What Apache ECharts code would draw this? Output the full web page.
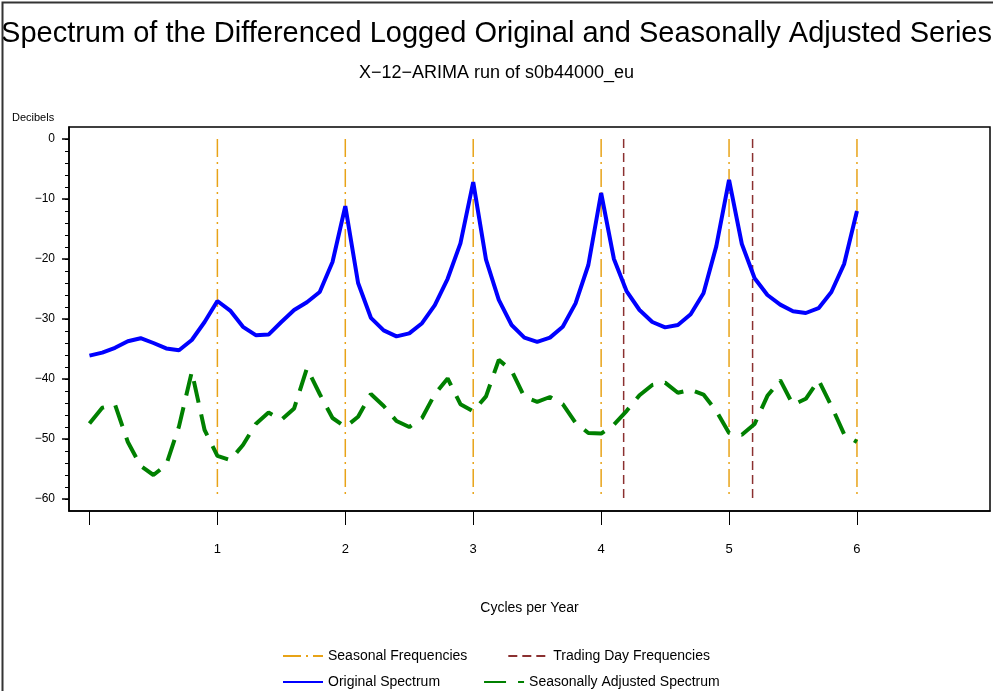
<!DOCTYPE html>
<html>
<head>
<meta charset="utf-8">
<script src="https://cdn.jsdelivr.net/npm/echarts@6/dist/echarts.min.js"></script>
<style>
html,body{margin:0;padding:0;background:#fff;}
#chart{width:993px;height:691px;}
</style>
</head>
<body>
<div id="chart"></div>
<script>
// Frequencies (cycles per year)
const freqs = [0.0,0.1,0.2,0.3,0.4,0.5,0.6,0.7,0.8,0.9,
               1.0,1.1,1.2,1.3,1.4,1.5,1.6,1.7,1.8,1.9,
               2.0,2.1,2.2,2.3,2.4,2.5,2.6,2.7,2.8,2.9,
               3.0,3.1,3.2,3.3,3.4,3.5,3.6,3.7,3.8,3.9,
               4.0,4.1,4.2,4.3,4.4,4.5,4.6,4.7,4.8,4.9,
               5.0,5.1,5.2,5.3,5.4,5.5,5.6,5.7,5.8,5.9,6.0];
// Original spectrum (decibels)
const originalSpectrum = [-36.1,-35.6,-34.8,-33.7,-33.2,-34.0,-34.9,-35.2,-33.5,-30.5,
                          -27.0,-28.6,-31.3,-32.7,-32.6,-30.5,-28.5,-27.2,-25.5,-20.5,
                          -11.2,-24.0,-29.8,-31.9,-32.9,-32.4,-30.7,-27.7,-23.3,-17.4,
                          -7.2,-20.1,-26.8,-31.0,-33.1,-33.8,-33.1,-31.3,-27.4,-21.0,
                          -9.0,-20.0,-25.4,-28.5,-30.5,-31.4,-31.0,-29.2,-25.7,-17.9,
                          -6.8,-17.5,-23.2,-26.0,-27.6,-28.7,-29.0,-28.2,-25.5,-20.8,-12.0];
// Seasonally adjusted spectrum (decibels)
const adjustedSpectrum = [-47.4,-44.8,-44.3,-50.5,-54.5,-56.0,-54.3,-47.9,-38.8,-48.5,
                          -52.8,-53.5,-51.0,-47.5,-45.6,-46.8,-44.9,-38.2,-42.5,-46.5,
                          -48.0,-46.3,-42.5,-44.5,-47.0,-48.0,-46.5,-42.5,-39.9,-44.2,
                          -45.4,-42.9,-36.8,-38.6,-43.0,-43.8,-43.0,-44.2,-47.3,-49.0,
                          -49.1,-47.6,-45.3,-42.7,-41.0,-40.6,-42.3,-41.8,-42.6,-45.3,
                          -49.0,-49.3,-47.5,-42.8,-40.2,-44.3,-43.3,-40.2,-44.5,-49.2,-50.5];
const seasonalFreqs = [1, 2, 3, 4, 5, 6];
const tradingDayFreqs = [4.176, 5.184];
const refLineRange = [0, -60];
const xTickValues = [0, 1, 2, 3, 4, 5, 6];
const xLabelValues = [1, 2, 3, 4, 5, 6];
const yLabelValues = [0, -10, -20, -30, -40, -50, -60];
const yMinorValues = [0,-2,-4,-6,-8,-10,-12,-14,-16,-18,-20,-22,-24,-26,-28,-30,
                      -32,-34,-36,-38,-40,-42,-44,-46,-48,-50,-52,-54,-56,-58,-60];

const FONT = 'Liberation Sans';
const chart = echarts.init(document.getElementById('chart'), null, {renderer: 'canvas'});

const series = [];
seasonalFreqs.forEach(f => {
  series.push({
    name: 'Seasonal Frequencies', type: 'line', symbol: 'none', silent: true,
    data: [[f, refLineRange[0]], [f, refLineRange[1]]],
    lineStyle: {color: '#E8A317', width: 1.5, type: [18, 5, 2, 5]},
    itemStyle: {color: '#E8A317'}, z: 1
  });
});
tradingDayFreqs.forEach(f => {
  series.push({
    name: 'Trading Day Frequencies', type: 'line', symbol: 'none', silent: true,
    data: [[f, refLineRange[0]], [f, refLineRange[1]]],
    lineStyle: {color: '#8B3030', width: 1.5, type: [9, 5]},
    itemStyle: {color: '#8B3030'}, z: 1
  });
});
series.push({
  name: 'Original Spectrum', type: 'line', symbol: 'none',
  data: freqs.map((f, i) => [f, originalSpectrum[i]]),
  lineStyle: {color: '#0000FF', width: 4},
  itemStyle: {color: '#0000FF'}, z: 3
});
series.push({
  name: 'Seasonally Adjusted Spectrum', type: 'line', symbol: 'none',
  data: freqs.map((f, i) => [f, adjustedSpectrum[i]]),
  lineStyle: {color: '#008000', width: 4, type: [22, 12]},
  itemStyle: {color: '#008000'}, z: 3
});

const fmtY = v => v < 0 ? '\u2212' + Math.abs(v) : String(v);
const legendCommon = {
  itemWidth: 40, itemHeight: 14,
  itemStyle: {opacity: 0},
  textStyle: {fontFamily: FONT, fontSize: 14, color: '#000'}
};

chart.setOption({
  animation: false,
  backgroundColor: '#fff',
  title: [
    {text: 'Spectrum of the Differenced Logged Original and Seasonally Adjusted Series',
     left: 'center', top: 14,
     textStyle: {fontFamily: FONT, fontSize: 29, fontWeight: 'normal', color: '#000'}},
    {text: 'X\u221212\u2212ARIMA run of s0b44000_eu', left: 'center', top: 59,
     textStyle: {fontFamily: FONT, fontSize: 18, fontWeight: 'normal', color: '#000'}}
  ],
  legend: [
    Object.assign({data: ['Seasonal Frequencies', 'Trading Day Frequencies'], left: 277, top: 644, itemGap: 40}, legendCommon),
    Object.assign({data: ['Original Spectrum', 'Seasonally Adjusted Spectrum'], left: 277, top: 670, itemGap: 43}, legendCommon)
  ],
  grid: {left: 69, right: 3, top: 127, bottom: 180, show: true,
         borderColor: '#000', borderWidth: 1.5, backgroundColor: 'transparent'},
  xAxis: {
    type: 'value', min: -0.16, max: 7.04,
    name: 'Cycles per Year', nameLocation: 'middle', nameGap: 90,
    nameTextStyle: {fontFamily: FONT, fontSize: 14, color: '#000'},
    axisLine: {show: true, onZero: false, lineStyle: {color: '#000', width: 1.5}},
    axisTick: {show: true, customValues: xTickValues, length: 14, lineStyle: {color: '#000', width: 1}},
    axisLabel: {customValues: xLabelValues, margin: 32, fontFamily: FONT, fontSize: 13, color: '#000'},
    splitLine: {show: false}
  },
  yAxis: [
    {
      type: 'value', min: -62, max: 2,
      axisLine: {show: true, onZero: false, lineStyle: {color: '#000', width: 1.5}},
      axisTick: {show: true, customValues: yLabelValues, length: 7, lineStyle: {color: '#000', width: 1.5}},
      axisLabel: {customValues: yLabelValues, margin: 14, fontFamily: FONT, fontSize: 12, color: '#000', formatter: fmtY},
      splitLine: {show: false}
    },
    {
      type: 'value', min: -62, max: 2, position: 'left',
      axisLine: {show: false, onZero: false},
      axisTick: {show: true, customValues: yMinorValues, length: 4, lineStyle: {color: '#000', width: 1}},
      axisLabel: {show: false},
      splitLine: {show: false}
    }
  ],
  graphic: [
    {type: 'text', left: 12, top: 112,
     style: {text: 'Decibels', fontFamily: FONT, fontSize: 11, fill: '#000'}},
    {type: 'rect', left: 0, top: 0, shape: {x: 0.5, y: 0.5, width: 992, height: 690},
     style: {fill: 'none', stroke: '#333', lineWidth: 2}, silent: true, z: 100}
  ],
  series: series
});
</script>
</body>
</html>
